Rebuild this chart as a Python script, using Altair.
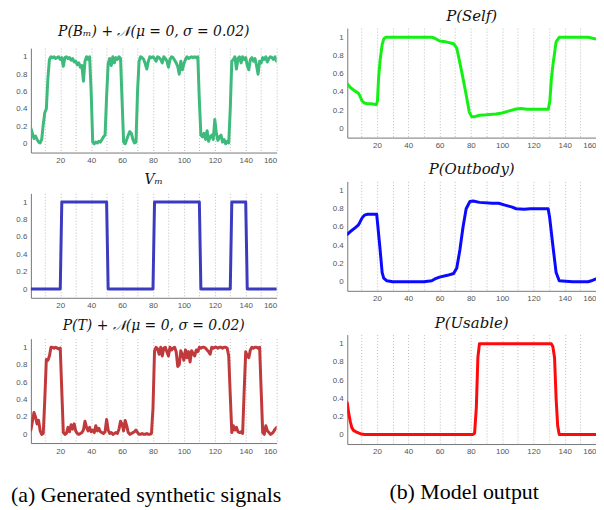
import altair as alt
import pandas as pd

# ---------------- data ----------------
T = list(range(1, 161))

P_BM_NOISY = [0.18, 0.12, 0.06, 0.09, 0.05, 0.02, 0.01, 0.05, 0.22, 0.36,
              0.40, 0.75, 0.97, 1.00, 0.99, 1.00, 0.98, 0.99, 1.00, 0.97,
              0.99, 0.89, 0.99, 1.00, 0.98, 0.99, 0.96, 0.98, 0.94, 0.95,
              0.91, 0.93, 0.88, 0.90, 0.72, 0.95, 1.00, 0.97, 1.00, 0.60,
              0.02, 0.00, 0.02, 0.01, 0.03, 0.02, 0.05, 0.08, 0.10, 0.55,
              0.92, 0.98, 0.90, 1.00, 0.93, 0.99, 0.97, 1.00, 0.98, 0.50,
              0.02, 0.00, 0.05, 0.10, 0.14, 0.12, 0.05, 0.01, 0.02, 0.60,
              0.95, 1.00, 0.99, 0.97, 0.92, 0.86, 0.95, 1.00, 0.99, 1.00,
              0.98, 0.95, 1.00, 0.99, 0.97, 0.93, 1.00, 0.98, 0.95, 0.88,
              0.97, 1.00, 0.99, 0.96, 0.93, 0.89, 0.80, 0.95, 0.85, 0.92,
              0.97, 1.00, 0.98, 0.99, 1.00, 0.99, 1.00, 0.99, 1.00, 0.50,
              0.10, 0.08, 0.12, 0.05, 0.15, 0.03, 0.08, 0.10, 0.05, 0.28,
              0.12, 0.04, 0.08, 0.10, 0.02, 0.05, 0.00, 0.03, 0.01, 0.40,
              0.95, 0.97, 1.00, 0.86, 0.98, 1.00, 0.93, 1.00, 0.97, 0.99,
              0.90, 0.85, 0.97, 0.99, 0.95, 0.98, 0.90, 0.80, 0.95, 0.93,
              0.99, 0.97, 1.00, 0.94, 0.98, 1.00, 0.99, 0.97, 1.00, 0.95]

V_M = [0] * 20 + [1] * 30 + [0] * 30 + [1] * 30 + [0] * 20 + [1] * 10 + [0] * 20

P_T_NOISY = [0.05, 0.15, 0.25, 0.20, 0.12, 0.16, 0.04, 0.00, 0.01, 0.40,
             0.86, 0.85, 0.90, 1.00, 1.00, 0.99, 1.00, 0.99, 0.98, 0.99,
             0.50, 0.02, 0.00, 0.01, 0.08, 0.03, 0.11, 0.06, 0.12, 0.04,
             0.01, 0.00, 0.01, 0.02, 0.05, 0.15, 0.08, 0.04, 0.08, 0.03,
             0.05, 0.02, 0.10, 0.04, 0.07, 0.03, 0.02, 0.01, 0.03, 0.17,
             0.05, 0.01, 0.02, 0.00, 0.01, 0.02, 0.01, 0.06, 0.15, 0.12,
             0.04, 0.16, 0.10, 0.02, 0.00, 0.01, 0.02, 0.03, 0.05, 0.02,
             0.00, 0.00, 0.01, 0.00, 0.00, 0.01, 0.00, 0.00, 0.01, 0.30,
             0.96, 1.00, 0.98, 0.92, 1.00, 0.90, 0.99, 1.00, 0.95, 0.90,
             1.00, 0.97, 0.99, 1.00, 0.95, 0.78, 0.80, 0.96, 0.92, 0.85,
             0.97, 0.88, 0.95, 0.83, 0.96, 0.93, 0.90, 0.97, 0.95, 1.00,
             0.99, 1.00, 1.00, 0.99, 0.97, 0.95, 0.92, 1.00, 0.99, 1.00,
             1.00, 0.99, 1.00, 1.00, 0.99, 1.00, 1.00, 0.99, 0.90, 0.45,
             0.02, 0.10, 0.05, 0.08, 0.03, 0.02, 0.03, 0.01, 0.50, 0.95,
             0.90, 0.88, 0.97, 1.00, 0.99, 1.00, 1.00, 0.99, 1.00, 0.50,
             0.02, 0.00, 0.10, 0.04, 0.02, 0.00, 0.01, 0.03, 0.06, 0.08]

SELF_X = [1, 3, 6, 8, 9, 10.5, 12, 14, 17, 19.5, 20.3, 21, 22, 23.3, 24.3, 25.5,
          30, 40, 50, 55, 57, 60, 64, 69, 71, 73, 75, 77, 79, 80.5, 82.5, 85.5,
          90, 96, 100, 104, 108, 112, 116, 122, 129.5, 130.5, 131.5, 132.5,
          134.5, 136.5, 145, 155, 160]
SELF_Y = [0.49, 0.45, 0.41, 0.39, 0.36, 0.30, 0.28, 0.27, 0.27, 0.26, 0.30, 0.55,
          0.75, 0.92, 0.98, 1.0, 1.0, 1.0, 1.0, 1.0, 0.99, 0.96, 0.95, 0.93,
          0.88, 0.72, 0.55, 0.37, 0.18, 0.13, 0.13, 0.145, 0.15, 0.16, 0.17,
          0.19, 0.21, 0.22, 0.21, 0.21, 0.21, 0.30, 0.55, 0.70, 0.95, 1.0,
          1.0, 1.0, 0.98]

OUT_X = [1, 3, 6, 8, 9, 10.5, 12, 14, 19.8, 20.6, 22, 23.3, 24.3, 26.3, 30, 40,
         50, 55, 57, 60, 65, 69, 71, 73, 75, 77, 79.4, 81.4, 85.5, 93.7, 97.8,
         101.8, 106, 109, 114, 118, 129.4, 130.4, 132.4, 134.5, 136.5, 145,
         155, 157, 160]
OUT_Y = [0.52, 0.55, 0.59, 0.62, 0.65, 0.70, 0.73, 0.74, 0.74, 0.60, 0.35, 0.10,
         0.04, 0.01, 0.0, 0.0, 0.0, 0.01, 0.03, 0.05, 0.07, 0.09, 0.15, 0.35,
         0.60, 0.80, 0.88, 0.885, 0.87, 0.86, 0.86, 0.84, 0.82, 0.80, 0.795,
         0.80, 0.80, 0.70, 0.40, 0.10, 0.01, 0.0, 0.0, 0.01, 0.03]

USE_X = [1, 1.8, 2.9, 3.9, 5, 7, 10, 12, 30, 60, 81.4, 82.4, 83.5, 84.5, 85.5,
         100, 120, 131.4, 132.4, 133.5, 134.5, 135.5, 136.5, 145, 160]
USE_Y = [0.35, 0.25, 0.15, 0.08, 0.05, 0.03, 0.01, 0.005, 0.005, 0.005, 0.005,
         0.02, 0.30, 0.85, 1.0, 1.0, 1.0, 1.0, 0.97, 0.85, 0.40, 0.10, 0.005,
         0.005, 0.005]

X_GRID = [10, 20, 30, 40, 50, 60, 70, 80, 90, 100, 110, 120, 130, 140, 150, 160]
Y_TICKS = [0, 0.2, 0.4, 0.6, 0.8, 1]

TITLES_LEFT = ["P(Bₘ) + 𝒩(μ = 0, σ = 0.02)", "Vₘ", "P(T) + 𝒩(μ = 0, σ = 0.02)"]
TITLES_RIGHT = ["P(Self)", "P(Outbody)", "P(Usable)"]
CAPTIONS = ["(a) Generated synthetic signals", "(b) Model output"]

COLORS_LEFT = ["#3dba7c", "#3b3bc0", "#c03a3c"]
COLORS_RIGHT = ["#14f014", "#0a0aff", "#ff0a0a"]

TITLE_FONT = "DejaVu Serif"
LW, LH = 247, 105
RW, RH = 250, 110


def panel(xs, ys, color, title, w, h, toff, tsize):
    df = pd.DataFrame({"x": xs, "y": ys})
    ch = alt.Chart(df).mark_line(
        color=color, strokeWidth=3, strokeJoin="round", strokeCap="round", clip=True
    ).encode(
        x=alt.X("x:Q",
                scale=alt.Scale(domain=[1, 160], nice=False, zero=False),
                axis=alt.Axis(values=X_GRID, title=None, grid=True,
                              labelExpr="datum.value % 20 == 0 ? datum.label : ''",
                              labelOverlap=False)),
        y=alt.Y("y:Q",
                scale=alt.Scale(domain=[-0.1, 1.1], nice=False, zero=False),
                axis=alt.Axis(values=Y_TICKS, title=None, grid=False, format="~g",
                              labelOverlap=False)),
    ).properties(width=w, height=h)
    if title is not None:
        ch = ch.properties(
            title=alt.TitleParams(title, font=TITLE_FONT, fontStyle="italic",
                                  fontSize=tsize, fontWeight="normal", color="#111",
                                  offset=toff)
        )
    return ch


# first left title drawn as a text row, so the left column starts lower
title_row = alt.Chart(pd.DataFrame({"t": [TITLES_LEFT[0]]})).mark_text(
    font=TITLE_FONT, fontStyle="italic", fontSize=14, color="#111",
    align="center", baseline="middle"
).encode(
    text="t:N", x=alt.value(LW / 2), y=alt.value(4)
).properties(width=LW, height=5)

left = alt.vconcat(
    title_row,
    panel(T, P_BM_NOISY, COLORS_LEFT[0], None, LW, LH, 6, 14),
    panel(T, V_M, COLORS_LEFT[1], TITLES_LEFT[1], LW, LH, 6, 14),
    panel(T, P_T_NOISY, COLORS_LEFT[2], TITLES_LEFT[2], LW, LH, 6, 14),
    spacing=9,
    title=alt.TitleParams(CAPTIONS[0], orient="bottom", anchor="middle",
                          font="Liberation Serif", fontSize=22,
                          fontWeight="normal", color="#000", offset=30),
)

right = alt.vconcat(
    panel(SELF_X, SELF_Y, COLORS_RIGHT[0], TITLES_RIGHT[0], RW, RH, 4, 15),
    panel(OUT_X, OUT_Y, COLORS_RIGHT[1], TITLES_RIGHT[1], RW, RH, 4, 15),
    panel(USE_X, USE_Y, COLORS_RIGHT[2], TITLES_RIGHT[2], RW, RH, 4, 15),
    spacing=13,
    title=alt.TitleParams(CAPTIONS[1], orient="bottom", anchor="middle",
                          font="Liberation Serif", fontSize=22,
                          fontWeight="normal", color="#000", offset=26),
)

chart = alt.hconcat(left, right, spacing=50).properties(
    padding={"left": 3, "top": 0, "right": 0, "bottom": 0},
    background="white",
).configure_view(stroke=None).configure_axis(
    labelFont="Liberation Sans", labelFontSize=8, labelColor="#555",
    domainColor="#777", domainWidth=1, ticks=False, labelPadding=4,
    gridColor="#bdbdbd", gridDash=[1, 2], gridWidth=1,
)

chart.save("out.html", embed_options={"renderer": "svg", "actions": False})
